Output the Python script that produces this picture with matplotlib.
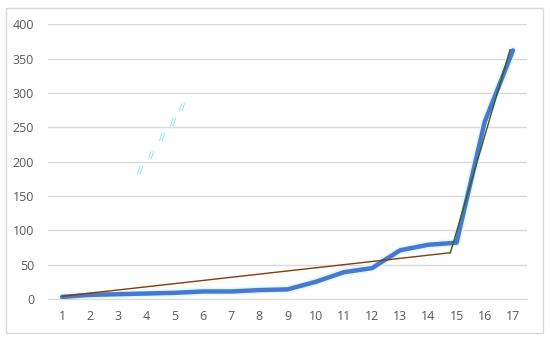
import matplotlib
matplotlib.use("Agg")
import matplotlib.pyplot as plt
from matplotlib.patches import Rectangle

categories = list(range(1, 18))
values = [3, 6, 7, 8, 9, 11, 11, 13, 14, 25, 39, 45, 71, 79, 82, 258, 362]

# two-piece trend line (break point and end points)
trend_x = [1, 14.78, 14.78, 16.9]
trend_y = [4, 67.4, 67.4, 363]

# stray "//" marks in the picture
mark_x = [3.77, 4.19, 4.55, 4.94, 5.29]
mark_y = [185, 208, 233, 256, 278]

plt.rcParams['font.family'] = ['Open Sans', 'DejaVu Sans']

fig = plt.figure(figsize=(5.5, 3.41), dpi=100)
fig.patches.append(Rectangle((6/550, 1-333/341), 537/550, 325/341, transform=fig.transFigure,
                             fill=False, edgecolor='#D9D9D9', linewidth=1))
ax = fig.add_axes([48/550, 1-299/341, 479/550, 274.7/341])

ax.plot(categories, values, color='#DDFAFC', linewidth=5.5, solid_capstyle='round', zorder=2)
ax.plot(categories, values, color='#4A78D0', linewidth=3.2, solid_capstyle='round', zorder=3)
ax.plot(trend_x[:2], trend_y[:2], color='#843C0C', linewidth=1, zorder=4)
ax.plot(trend_x[2:], trend_y[2:], color='#3F5A1E', linewidth=1, zorder=4)

for mx, my in zip(mark_x, mark_y):
    ax.text(mx, my, '//', color='#5CE8F0', fontsize=7, ha='center', va='center', zorder=1)

ax.set_xlim(0.5, 17.5)
ax.set_ylim(0, 400)
ax.set_yticks(range(0, 401, 50))
ax.set_xticks(categories)
ax.grid(axis='y', color='#D9D9D9', linewidth=1)
ax.set_axisbelow(True)
for s in ['top', 'right', 'left']:
    ax.spines[s].set_visible(False)
ax.spines['bottom'].set_color('#D9D9D9')
ax.tick_params(axis='both', length=0, labelsize=9, labelcolor='#595959')
ax.tick_params(axis='y', pad=10)
ax.tick_params(axis='x', pad=8)

fig.savefig('out.png', dpi=100)
